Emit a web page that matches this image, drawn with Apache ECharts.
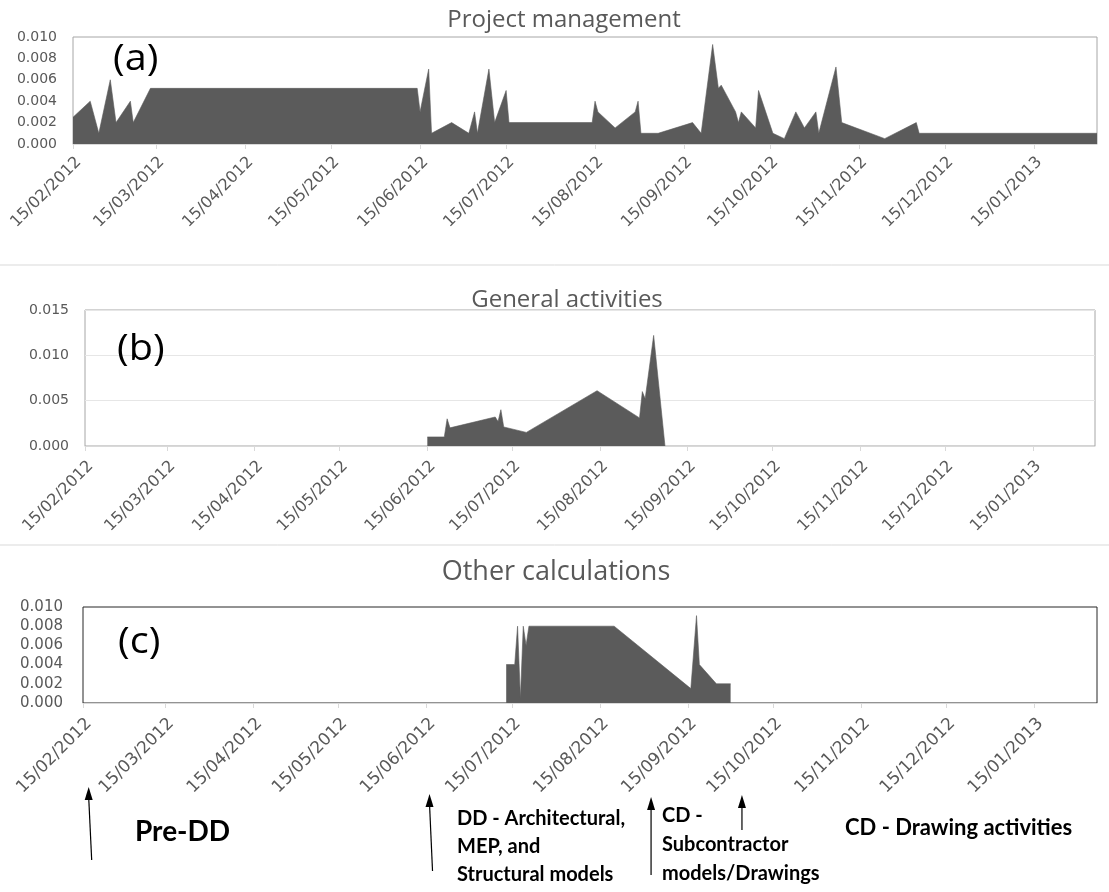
<!DOCTYPE html>
<html><head><meta charset="utf-8">
<script src="https://cdn.jsdelivr.net/npm/echarts@6/dist/echarts.min.js"></script>
<style>html,body{margin:0;padding:0;background:#fff}#c{width:1109px;height:892px}</style>
</head><body><div id="c"></div>
<script>
// ---- data ----
const tickLabels = ['15/02/2012','15/03/2012','15/04/2012','15/05/2012','15/06/2012','15/07/2012',
  '15/08/2012','15/09/2012','15/10/2012','15/11/2012','15/12/2012','15/01/2013'];
const axisStart = '15/02/2012';
const axisEnd = '06/02/2013';

const panelTitles = ['Project management', 'General activities', 'Other calculations'];
const panelLetters = ['(a)', '(b)', '(c)'];

const pmDates = ['15/02/2012','21/02/2012','24/02/2012','28/02/2012','01/03/2012','06/03/2012','07/03/2012',
  '13/03/2012','14/06/2012','15/06/2012','18/06/2012','19/06/2012','26/06/2012','02/07/2012','04/07/2012',
  '05/07/2012','09/07/2012','11/07/2012','15/07/2012','16/07/2012','14/08/2012','15/08/2012','16/08/2012',
  '22/08/2012','29/08/2012','30/08/2012','31/08/2012','06/09/2012','18/09/2012','21/09/2012','25/09/2012',
  '27/09/2012','28/09/2012','03/10/2012','04/10/2012','05/10/2012','10/10/2012','11/10/2012','16/10/2012',
  '20/10/2012','24/10/2012','27/10/2012','31/10/2012','01/11/2012','07/11/2012','09/11/2012','24/11/2012',
  '05/12/2012','06/12/2012','06/02/2013'];
const pmValues = [0.0025,0.004,0.001,0.006,0.002,0.004,0.002,
  0.0052,0.0052,0.003,0.007,0.001,0.002,0.001,0.003,
  0.001,0.007,0.002,0.005,0.002,0.002,0.004,0.003,
  0.0015,0.003,0.004,0.001,0.001,0.002,0.001,0.0093,
  0.0052,0.0055,0.003,0.002,0.003,0.0015,0.005,0.001,
  0.0005,0.003,0.0015,0.003,0.001,0.0072,0.002,0.0005,
  0.002,0.001,0.001];

const gaDates = ['15/06/2012','21/06/2012','22/06/2012','23/06/2012','09/07/2012','10/07/2012','11/07/2012',
  '12/07/2012','20/07/2012','14/08/2012','29/08/2012','30/08/2012','31/08/2012','03/09/2012','07/09/2012'];
const gaValues = [0.001,0.001,0.003,0.002,0.0032,0.0027,0.004,
  0.0021,0.0015,0.0061,0.0031,0.006,0.0052,0.0122,0];

const ocDates = ['13/07/2012','16/07/2012','17/07/2012','18/07/2012','19/07/2012','20/07/2012','21/07/2012',
  '20/08/2012','16/09/2012','18/09/2012','19/09/2012','25/09/2012','30/09/2012'];
const ocValues = [0.004,0.004,0.008,0.0005,0.008,0.006,0.008,
  0.008,0.0015,0.0091,0.004,0.002,0.002];

const phaseArrowDates = ['17/02/2012','16/06/2012','02/09/2012','04/10/2012'];
const phaseLabels = [['Pre-DD'], ['DD - Architectural,','MEP, and','Structural models'],
  ['CD -','Subcontractor','models/Drawings'], ['CD - Drawing activities']];

// ---- helpers ----
function parse(s){ const p = s.split('/'); return new Date(+p[2], +p[1]-1, +p[0]).getTime(); }
const tickValues = tickLabels.map(parse);
const tickMap = {}; tickLabels.forEach((l,i)=>{ tickMap[tickValues[i]] = l; });
const pair = (ds, vs) => ds.map((d,i)=>[parse(d), vs[i]]);

const AREA = '#5b5b5b';
const LABEL = '#595959';

function xAxisFor(gi, fs, margin){
  return {
    type:'value', gridIndex: gi, min: parse(axisStart), max: parse(axisEnd), scale:true,
    axisLine:{show:true, lineStyle:{color:'#d9d9d9', width:1}},
    axisTick:{show:true, customValues: tickValues, length:5, lineStyle:{color:'#d9d9d9'}},
    axisLabel:{customValues: tickValues, rotate:45, margin:margin, color:LABEL, fontSize:fs,
      fontFamily:'DejaVu Sans', verticalAlign:'top', formatter: v => tickMap[v] || '', hideOverlap:false},
    splitLine:{show:false}
  };
}
function yAxisFor(gi, max, step, fs, split, margin){
  return {
    type:'value', gridIndex: gi, min:0, max:max, interval:step,
    axisLine:{show:false}, axisTick:{show:false},
    axisLabel:{color:LABEL, fontSize:fs, fontFamily:'DejaVu Sans', margin:margin, formatter: v => v.toFixed(3)},
    splitLine:{show:split, lineStyle:{color:'#e6e6e6', width:1}}
  };
}
function areaSeries(i, data){
  return {type:'line', xAxisIndex:i, yAxisIndex:i, data:data, symbol:'none', showSymbol:false,
    lineStyle:{width:0.6, color:AREA}, areaStyle:{color:AREA, opacity:1}, silent:true};
}

const chart = echarts.init(document.getElementById('c'), null, {renderer:'canvas'});
chart.setOption({
  animation:false,
  backgroundColor:'#ffffff',
  grid:[
    {left:73, top:37, width:1024, height:107, show:true, borderColor:'#a6a6a6', borderWidth:1},
    {left:85, top:310, width:1010, height:136, show:true, borderColor:'#a6a6a6', borderWidth:1},
    {left:83, top:607, width:1014, height:96, show:true, borderColor:'#262626', borderWidth:1}
  ],
  xAxis:[xAxisFor(0,16,10), xAxisFor(1,16,12), xAxisFor(2,17,12)],
  yAxis:[yAxisFor(0,0.010,0.002,14,false,16), yAxisFor(1,0.015,0.005,14,true,16), yAxisFor(2,0.010,0.002,15,false,20)],
  series:[areaSeries(0, pair(pmDates,pmValues)), areaSeries(1, pair(gaDates,gaValues)), areaSeries(2, pair(ocDates,ocValues))]
});

// ---- annotations ----
const g = [];
[265, 545].forEach(y => g.push({type:'line', shape:{x1:0,y1:y,x2:1109,y2:y}, style:{stroke:'#d9d9d9', lineWidth:1}, silent:true}));
const titlePos = [[564,20,24],[567,300,24],[556,572,27]];
panelTitles.forEach((t,i)=>{
  const p = titlePos[i];
  g.push({type:'text', x:p[0], y:p[1], z:10,
    style:{text:t, x:0, y:0, align:'center', verticalAlign:'middle', textAlign:'center', textVerticalAlign:'middle',
      font:'normal '+p[2]+'px "Open Sans"', fill:'#595959'}});
});
const letterPos = [[113,60],[117,350],[118,643]];
panelLetters.forEach((t,i)=>{
  g.push({type:'text', x:letterPos[i][0], y:letterPos[i][1], scaleX:1.1, z:10,
    style:{text:t, x:0, y:0, align:'left', verticalAlign:'middle', textAlign:'left', textVerticalAlign:'middle',
      font:'normal 36px "Open Sans"', fill:'#000'}});
});
const arrowY = [[787,860,-3],[794,871,-3],[797,875,0],[795,830,0]];
phaseArrowDates.forEach((d,i)=>{
  const x = chart.convertToPixel({xAxisIndex:2}, parse(d));
  const [tipY, tailY, dx] = arrowY[i];
  const xt = x, xb = x - dx;
  g.push({type:'line', shape:{x1:xb, y1:tailY, x2:xt, y2:tipY+10}, style:{stroke:'#000', lineWidth:1.2}, silent:true});
  g.push({type:'polygon', shape:{points:[[xt,tipY],[xt-4,tipY+13],[xt+4,tipY+13]]}, style:{fill:'#000'}, silent:true});
});
const labelPos = [[135,832,28,28],[457,819,20,28],[662,816,20,29],[845,828,22,28]];
phaseLabels.forEach((lines,i)=>{
  const [x,y,fs,lh] = labelPos[i];
  lines.forEach((t,j)=>{
    g.push({type:'text', x:x, y:y+j*lh, z:10,
      style:{text:t, x:0, y:0, align:'left', verticalAlign:'middle', textAlign:'left', textVerticalAlign:'middle',
        font:'bold '+fs+'px Lato', fill:'#000'}});
  });
});
chart.setOption({graphic:g});
</script>
</body></html>
